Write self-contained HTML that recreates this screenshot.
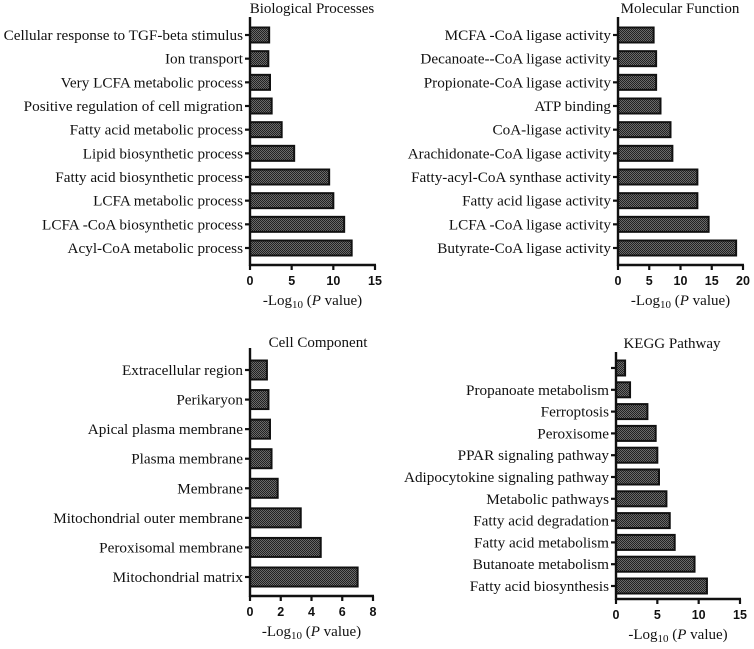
<!DOCTYPE html>
<html><head><meta charset="utf-8"><style>
body{margin:0;background:#fff;}
svg{display:block;}
text{font-family:"Liberation Serif",serif;fill:#111;}
.tick{font-family:"Liberation Sans",sans-serif;font-weight:bold;font-size:12.5px;}
</style></head><body>
<svg id="c" width="754" height="649" viewBox="0 0 754 649" xmlns="http://www.w3.org/2000/svg">
<defs><pattern id="hatch" width="2" height="2" patternUnits="userSpaceOnUse"><rect width="2" height="2" fill="#6a6a6a"/><rect width="1" height="1" fill="#222"/><rect x="1" y="1" width="1" height="1" fill="#222"/></pattern></defs>
</svg>
<script>
const bpCategories=["Cellular response to TGF-beta stimulus","Ion transport","Very LCFA metabolic process","Positive regulation of cell migration","Fatty acid metabolic process","Lipid biosynthetic process","Fatty acid biosynthetic process","LCFA metabolic process","LCFA -CoA biosynthetic process","Acyl-CoA metabolic process"];
const bpValues=[2.3,2.2,2.4,2.6,3.8,5.3,9.5,10.0,11.3,12.2];
const bpTicks=[0,5,10,15];
const mfCategories=["MCFA -CoA ligase activity","Decanoate--CoA ligase activity","Propionate-CoA ligase activity","ATP binding","CoA-ligase activity","Arachidonate-CoA ligase activity","Fatty-acyl-CoA synthase activity","Fatty acid ligase activity","LCFA -CoA ligase activity","Butyrate-CoA ligase activity"];
const mfValues=[5.7,6.1,6.1,6.8,8.4,8.7,12.7,12.7,14.5,18.9];
const mfTicks=[0,5,10,15,20];
const ccCategories=["Extracellular region","Perikaryon","Apical plasma membrane","Plasma membrane","Membrane","Mitochondrial outer membrane","Peroxisomal membrane","Mitochondrial matrix"];
const ccValues=[1.1,1.2,1.3,1.4,1.8,3.3,4.6,7.0];
const ccTicks=[0,2,4,6,8];
const keggCategories=["","Propanoate metabolism","Ferroptosis","Peroxisome","PPAR signaling pathway","Adipocytokine signaling pathway","Metabolic pathways","Fatty acid degradation","Fatty acid metabolism","Butanoate metabolism","Fatty acid biosynthesis"];
const keggValues=[1.1,1.7,3.8,4.8,5.0,5.2,6.1,6.5,7.1,9.5,11.0];
const keggTicks=[0,5,10,15];

const svg=document.getElementById('c');
const NS="http://www.w3.org/2000/svg";
function mk(tag,attrs,parent){const e=document.createElementNS(NS,tag);for(const k in attrs)e.setAttribute(k,attrs[k]);(parent||svg).appendChild(e);return e;}

function panel(key,title,cats,vals,ticks,geo){
  const g=mk('g',{});
  
  
  const max=ticks[ticks.length-1];
  const xs=v=>geo.x0+(v/max)*(geo.x1-geo.x0);
  const ys=i=>geo.yFirst+i*(geo.yLast-geo.yFirst)/(cats.length-1);
  const t=mk('text',{x:geo.tx,y:geo.ty,'font-size':15,'text-anchor':'middle'},g);
  t.textContent=title;
  
  
  cats.forEach((c,i)=>{
    const y=ys(i);
    const r=mk('rect',{x:xs(0),y:y-geo.bh/2,width:xs(vals[i])-xs(0),height:geo.bh,fill:'url(#hatch)',stroke:'#111','stroke-width':2},g);
    
    
    mk('line',{x1:xs(0)-5,x2:xs(0),y1:y,y2:y,stroke:'#111','stroke-width':2.2},g);
    const l=mk('text',{x:xs(0)-7,y:y+5,'font-size':15.2,'text-anchor':'end'},g);
    l.textContent=c;
    
    
  });
  const ya=mk('line',{x1:xs(0),x2:xs(0),y1:geo.top,y2:geo.axisY+1,stroke:'#111','stroke-width':2.4},g);
  
  
  const xa=mk('line',{x1:xs(0)-1,x2:geo.x1+1,y1:geo.axisY,y2:geo.axisY,stroke:'#111','stroke-width':2.4},g);
  
  
  ticks.forEach(v=>{
    mk('line',{x1:xs(v),x2:xs(v),y1:geo.axisY,y2:geo.axisY+5,stroke:'#111','stroke-width':2.2},g);
    const tl=mk('text',{x:xs(v),y:geo.axisY+20,'text-anchor':'middle',class:'tick'},g);
    tl.textContent=v;
    
    
  });
  const at=mk('text',{x:(geo.x0+geo.x1)/2,y:geo.axisY+40,'font-size':15,'text-anchor':'middle'},g);
  at.innerHTML='-Log<tspan font-size="11" dy="3">10</tspan><tspan dy="-3"> (</tspan><tspan font-style="italic">P</tspan> value)';
  
  
}
panel('bp','Biological Processes',bpCategories,bpValues,bpTicks,{x0:250,x1:375,yFirst:35,yLast:248,bh:15,top:17,axisY:265,tx:312,ty:13});
panel('mf','Molecular Function',mfCategories,mfValues,mfTicks,{x0:618,x1:743,yFirst:35,yLast:248,bh:15,top:17,axisY:265,tx:680,ty:13});
panel('cc','Cell Component',ccCategories,ccValues,ccTicks,{x0:250,x1:373,yFirst:370,yLast:577,bh:19,top:348,axisY:596,tx:318,ty:347});
panel('kegg','KEGG Pathway',keggCategories,keggValues,keggTicks,{x0:616,x1:740,yFirst:368,yLast:586,bh:15,top:352,axisY:599,tx:672,ty:348});
</script>
</body></html>
